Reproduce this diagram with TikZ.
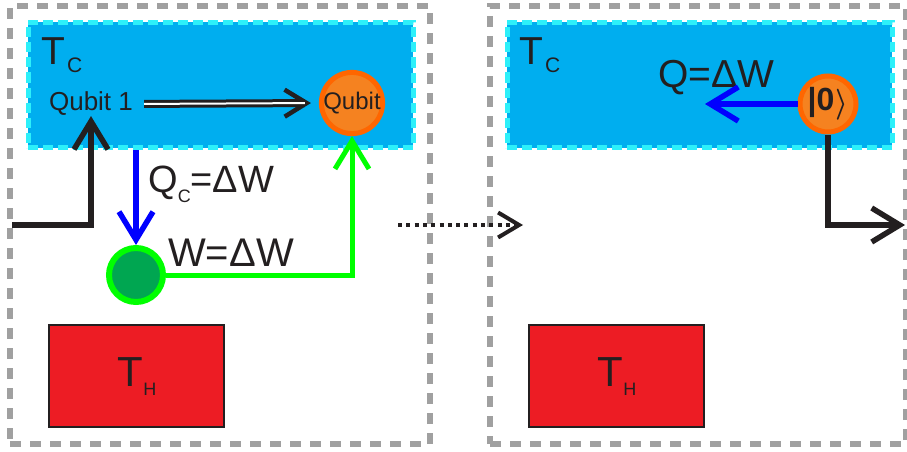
\documentclass[tikz,border=0pt]{standalone}
\usepackage{fontspec}
\setmainfont{Liberation Sans}
\usetikzlibrary{arrows.meta,calc}
\definecolor{framegray}{RGB}{160,160,160}
\definecolor{coldblue}{RGB}{0,174,239}
\definecolor{cyanedge}{RGB}{45,240,250}
\definecolor{hotred}{RGB}{237,28,36}
\definecolor{ink}{RGB}{35,31,32}
\definecolor{qorange}{RGB}{245,130,32}
\definecolor{qring}{RGB}{255,102,0}
\definecolor{wgreen}{RGB}{0,166,81}
\definecolor{limeg}{RGB}{0,255,0}
\definecolor{flowblue}{RGB}{0,0,255}
\begin{document}
\begin{tikzpicture}[x=1pt,y=-1pt,
  every node/.style={inner sep=0pt, text=ink},
  framebox/.style={draw=framegray, line width=5.5pt, dash pattern=on 11pt off 9pt, minimum height=438pt},
  coldbox/.style={fill=coldblue, draw=cyanedge, line width=5pt, dash pattern=on 10pt off 5pt, minimum width=385pt, minimum height=125pt},
  hotbox/.style={fill=hotred, draw=ink, line width=1.2pt, minimum width=175pt, minimum height=102pt},
  qcircle/.style={circle, fill=qorange, draw=qring, line width=5pt, minimum size=56pt},
  wcircle/.style={circle, fill=wgreen, draw=limeg, line width=6pt, minimum size=54pt},
  barb/.style={-{Straight Barb[length=28pt,width=34pt,line join=miter,line cap=butt]}},
  blackflow/.style={barb, draw=ink, line width=5.5pt},
  blueflow/.style={barb, draw=flowblue, line width=5.5pt},
  greenflow/.style={barb, draw=limeg, line width=5pt},
  dotflow/.style={draw=ink, line width=4pt, dash pattern=on 4pt off 4.3pt,
    -{Straight Barb[length=21pt,width=25pt,line join=miter,line cap=butt]}},
  biglabel/.style={anchor=base west}
]
\useasboundingbox (0,0) rectangle (907,452);

% frames
\node[framebox, minimum width=420pt] (frameL) at (220,225) {};
\node[framebox, minimum width=416pt] (frameR) at (698,225) {};

% cold reservoirs
\node[coldbox] (cL) at (220.5,85) {};
\node[coldbox] (cR) at (699.5,85) {};

% hot reservoirs
\node[hotbox] (hL) at (136.5,376) {};
\node[hotbox] (hR) at (616.5,376) {};

% reservoir labels
\node[biglabel] (tcL) at (41,65) {\fontsize{39}{39}\selectfont T\hspace{2pt}\raisebox{-8pt}{\fontsize{21}{21}\selectfont C}};
\node[biglabel] (tcR) at (519,65) {\fontsize{39}{39}\selectfont T\hspace{2pt}\raisebox{-8pt}{\fontsize{21}{21}\selectfont C}};
\node[anchor=base] (thL) at (137,386) {\fontsize{42}{42}\selectfont T\raisebox{-9pt}{\fontsize{18}{18}\selectfont H}};
\node[anchor=base] (thR) at (617,386) {\fontsize{42}{42}\selectfont T\raisebox{-9pt}{\fontsize{18}{18}\selectfont H}};

% qubits and work
\node (q1) at (91,104) {\fontsize{26}{26}\selectfont Qubit 1};
\node[qcircle] (qb) at (352,103) {\fontsize{24}{24}\selectfont Qubit};
\node[wcircle] (gc) at (136,275) {};
\node[qcircle] (z0) at (828,104) {\fontsize{32}{32}\selectfont\bfseries |0\hspace{1pt}\raisebox{-2pt}{\scalebox{1.15}[1.25]{\boldmath$\rangle$}}};

% text labels
\node[biglabel] (lqc) at (148,192) {\fontsize{38}{38}\selectfont Q\raisebox{-10pt}{\fontsize{18}{18}\selectfont C}=ΔW};
\node[biglabel] (lw) at (168,266) {\fontsize{40}{40}\selectfont W=ΔW};
\node[biglabel] (lq) at (658,88) {\fontsize{39}{39}\selectfont Q=ΔW};

% free ends
\coordinate (inL) at (12,225);
\coordinate (qout) at (705,104);
\coordinate (outR) at (905,225);
\coordinate (d1) at (398,225);
\coordinate (d2) at (523,225);

% connectors
\draw[blackflow] (inL) -| (q1.south);
\draw[blueflow] (cL.south -| gc.north) -- (gc.north);
\draw[greenflow] (gc.east) -| (qb.south);
\draw[ink, line width=4.5pt, -{Straight Barb[length=22pt,width=27pt,line join=miter,line cap=butt]}, shorten <=11pt, shorten >=8pt] (q1.east) -- (qb.west);
\draw[ink, line width=3pt, double=white, double distance=2pt, shorten <=11pt, shorten >=14pt] (q1.east) -- (qb.west);
\draw[blueflow] (z0.west) -- (qout);
\draw[blackflow] (z0.south) |- (outR);
\draw[dotflow] (d1) -- (d2);
\end{tikzpicture}
\end{document}
